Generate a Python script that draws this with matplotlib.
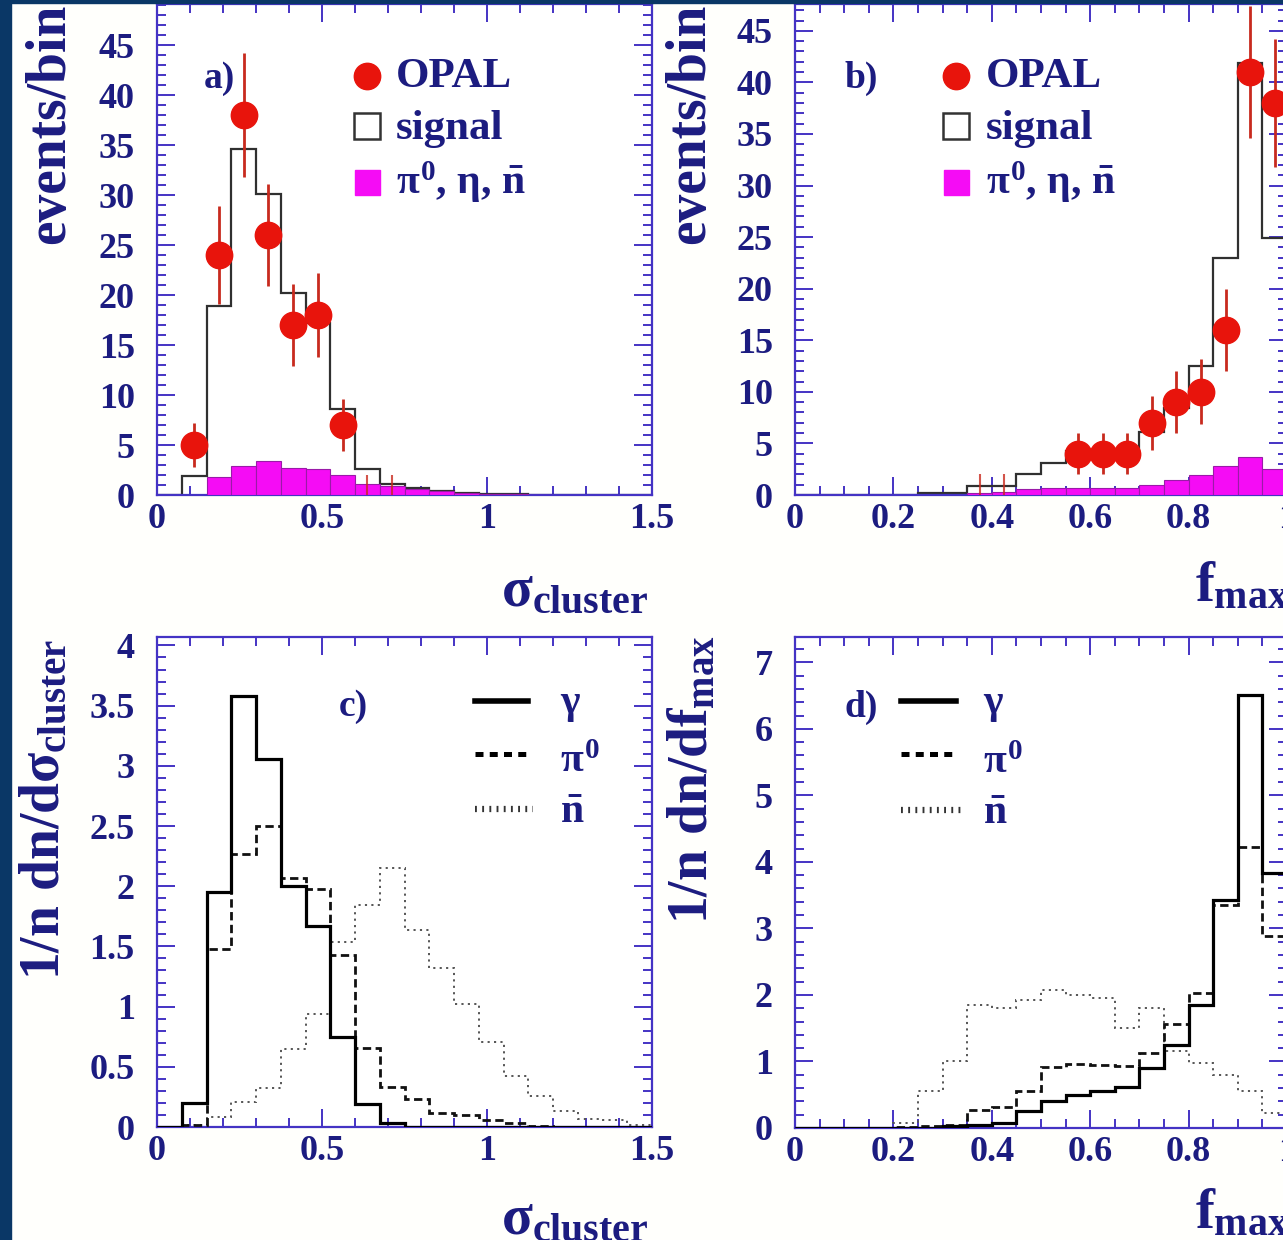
import numpy as np
import matplotlib
matplotlib.use("Agg")
import matplotlib.pyplot as plt
from matplotlib.patches import Rectangle
from matplotlib.ticker import MultipleLocator, FuncFormatter

W, H = 1283, 1240

plt.rcParams['font.family'] = ['Liberation Serif', 'DejaVu Serif']
plt.rcParams['font.weight'] = 'bold'
plt.rcParams['mathtext.fontset'] = 'custom'
plt.rcParams['mathtext.rm'] = 'Liberation Serif:bold'
plt.rcParams['mathtext.it'] = 'Liberation Serif:bold'
plt.rcParams['mathtext.bf'] = 'Liberation Serif:bold'

TXT = '#1c1c80'
FRAME = '#4433c4'
RED = '#e8140c'
ERR = '#c82a1e'
MAG = '#f50cf5'
NAVY = '#0a3766'

# binning: sigma_cluster in 0.075 steps, f_max in 0.05 steps
sig_edges = np.round(np.arange(21) * 0.075, 4)
fmax_edges = np.round(np.arange(21) * 0.05, 4)

# a) sigma_cluster, data vs MC
a_data_x = [0.1125, 0.1875, 0.2625, 0.3375, 0.4125, 0.4875, 0.5625]
a_data_y = [5, 24, 38, 26, 17, 18, 7]
a_single_x = [0.6375, 0.7125]
a_single_y = [1, 1]
a_signal = [0, 1.9, 18.9, 34.6, 30.1, 20.2, 17.2, 8.6, 2.6, 1.1,
            0.7, 0.4, 0.25, 0.15, 0.1, 0.05, 0, 0, 0, 0]
a_bkg = [0, 0, 1.8, 2.9, 3.4, 2.7, 2.6, 2.0, 1.1, 0.9,
         0.6, 0.4, 0.2, 0.15, 0.1, 0.05, 0, 0, 0, 0]

# b) f_max, data vs MC
b_data_x = [0.575, 0.625, 0.675, 0.725, 0.775, 0.825, 0.875, 0.925, 0.975]
b_data_y = [4, 4, 4, 7, 9, 10, 16, 41, 38]
b_single_x = [0.375, 0.425]
b_single_y = [1, 1]
b_signal = [0, 0, 0, 0, 0, 0.15, 0.15, 0.9, 0.9, 2.0,
            3.1, 4.3, 4.3, 4.3, 6.1, 8.4, 12.5, 23.0, 41.9, 24.9]
b_bkg = [0, 0, 0, 0, 0, 0, 0, 0.2, 0.3, 0.6,
         0.7, 0.7, 0.7, 0.7, 1.0, 1.45, 1.9, 2.8, 3.7, 2.55]

# c) normalised sigma_cluster shapes
c_gamma = [0, 0.2, 1.95, 3.58, 3.06, 2.0, 1.67, 0.75, 0.19, 0.03,
           0, 0, 0, 0, 0, 0, 0, 0, 0, 0]
c_pi0 = [0, 0.02, 1.48, 2.27, 2.5, 2.07, 1.98, 1.43, 0.66, 0.335,
         0.23, 0.12, 0.1, 0.06, 0.03, 0.01, 0, 0, 0, 0]
c_nbar = [0, 0.02, 0.08, 0.21, 0.32, 0.65, 0.94, 1.54, 1.84, 2.15,
          1.64, 1.32, 1.02, 0.71, 0.42, 0.26, 0.135, 0.07, 0.06, 0.02]

# d) normalised f_max shapes
d_gamma = [0, 0, 0, 0, 0, 0, 0.03, 0.05, 0.08, 0.25,
           0.4, 0.5, 0.55, 0.62, 0.9, 1.25, 1.85, 3.43, 6.51, 3.83]
d_pi0 = [0, 0, 0, 0, 0.02, 0.03, 0.05, 0.27, 0.32, 0.56,
         0.92, 0.96, 0.95, 0.93, 1.12, 1.57, 2.03, 3.35, 4.23, 2.88]
d_nbar = [0, 0, 0, 0, 0.08, 0.55, 1.0, 1.85, 1.8, 1.92,
          2.07, 2.0, 1.95, 1.5, 1.8, 1.15, 0.97, 0.8, 0.55, 0.22]

fig = plt.figure(figsize=(W / 100, H / 100), dpi=100)
fig.patch.set_facecolor('#fffffc')


def px_axes(x0, y0, x1, y1):
    return fig.add_axes([x0 / W, 1 - y1 / H, (x1 - x0) / W, (y1 - y0) / H])


def ftext(x, y, s, **kw):
    kw.setdefault('color', TXT)
    fig.text(x / W, 1 - y / H, s, **kw)


def style(ax, xlim, ylim, xmaj, xmin, ymaj, ymin):
    ax.set_xlim(*xlim)
    ax.set_ylim(*ylim)
    ax.xaxis.set_major_locator(MultipleLocator(xmaj))
    ax.xaxis.set_minor_locator(MultipleLocator(xmin))
    ax.yaxis.set_major_locator(MultipleLocator(ymaj))
    ax.yaxis.set_minor_locator(MultipleLocator(ymin))
    fmt = FuncFormatter(lambda v, p: f'{round(v, 3):g}')
    ax.xaxis.set_major_formatter(fmt)
    ax.yaxis.set_major_formatter(fmt)
    ax.tick_params(which='both', direction='in', top=True, right=True,
                   color=FRAME, labelcolor=TXT, width=1.4, labelsize=26)
    ax.tick_params(which='major', length=13)
    ax.tick_params(which='minor', length=6.5)
    ax.tick_params(axis='x', which='major', pad=6)
    ax.tick_params(axis='y', which='major', pad=16)
    for s in ax.spines.values():
        s.set_color(FRAME)
        s.set_linewidth(1.6)


def data_panel(ax, edges, signal, bkg, dx, dy, sx, sy):
    edges = np.asarray(edges)
    bkg = np.asarray(bkg)
    ax.stairs(signal, edges, color='#303030', lw=1.6, zorder=2)
    keep = bkg > 0
    ax.bar(edges[:-1][keep], bkg[keep], width=np.diff(edges)[keep],
           align='edge', color=MAG, edgecolor='#9a1aa8', linewidth=0.8,
           zorder=3)
    ax.errorbar(sx, sy, yerr=np.sqrt(sy), fmt='none', ecolor=ERR,
                elinewidth=1.5, alpha=0.8, zorder=4)
    ax.errorbar(dx, dy, yerr=np.sqrt(dy), fmt='o', color=RED, ms=19,
                mec=RED, ecolor=ERR, elinewidth=2, capsize=0, zorder=5)


def data_legend(ax, xm, xt):
    t = ax.transAxes
    ax.plot([xm], [0.853], 'o', ms=19, color=RED, transform=t, clip_on=False)
    ax.text(xt, 0.831, 'OPAL', transform=t, fontsize=31, va='baseline', color=TXT)
    ax.plot([xm], [0.751], 's', ms=19, mfc='white', mec='#333333', mew=1.8,
            transform=t, clip_on=False)
    ax.text(xt, 0.725, 'signal', transform=t, fontsize=31, va='baseline', color=TXT)
    ax.plot([xm], [0.637], 's', ms=18, color=MAG, transform=t, clip_on=False)
    ax.text(xt, 0.613, r'$\pi^{0}$, $\eta$, $\bar{n}$', transform=t, fontsize=30,
            va='baseline', color=TXT)


def shape_panel(ax, edges, gamma, pi0, nbar):
    ax.stairs(nbar, edges, color='#555555', lw=1.4, ls=(0, (1.1, 2.2)), zorder=2)
    ax.stairs(pi0, edges, color='#111111', lw=2.0, ls=(0, (3, 1.6)), zorder=3)
    ax.stairs(gamma, edges, color='black', lw=2.3, zorder=4)


def shape_legend(ax, x0, x1, xt):
    t = ax.transAxes
    ax.plot([x0, x1], [0.869, 0.869], color='black', lw=4, transform=t)
    ax.text(xt, 0.845, r'$\gamma$', transform=t, fontsize=30, va='baseline', color=TXT)
    ax.plot([x0, x1], [0.761, 0.761], color='black', lw=3.6,
            ls=(0, (1.6, 1.25)), transform=t)
    ax.text(xt, 0.724, r'$\pi^{0}$', transform=t, fontsize=30, va='baseline', color=TXT)
    ax.plot([x0, x1 + 0.01], [0.648, 0.648], color='#333333', lw=4.5,
            ls=(0, (0.3, 0.85)), transform=t)
    ax.text(xt, 0.620, r'$\bar{n}$', transform=t, fontsize=30, va='baseline', color=TXT)


# a)
ax_a = px_axes(157, 4, 652, 495)
style(ax_a, (0, 1.5), (0, 49.1), 0.5, 0.1, 5, 1)
data_panel(ax_a, sig_edges, a_signal, a_bkg, a_data_x, a_data_y, a_single_x, a_single_y)
data_legend(ax_a, 0.424, 0.482)
ax_a.text(0.095, 0.829, 'a)', transform=ax_a.transAxes, fontsize=27, va='baseline', color=TXT)

# b)
ax_b = px_axes(795, 4, 1287, 495)
style(ax_b, (0, 1.0), (0, 47.6), 0.2, 0.05, 5, 1)
data_panel(ax_b, fmax_edges, b_signal, b_bkg, b_data_x, b_data_y, b_single_x, b_single_y)
data_legend(ax_b, 0.327, 0.388)
ax_b.text(0.0996, 0.829, 'b)', transform=ax_b.transAxes, fontsize=27, va='baseline', color=TXT)

# c)
ax_c = px_axes(157, 637, 652, 1127)
style(ax_c, (0, 1.5), (0, 4.07), 0.5, 0.1, 0.5, 0.1)
shape_panel(ax_c, sig_edges, c_gamma, c_pi0, c_nbar)
shape_legend(ax_c, 0.643, 0.750, 0.814)
ax_c.text(0.368, 0.839, 'c)', transform=ax_c.transAxes, fontsize=27, va='baseline', color=TXT)

# d)
ax_d = px_axes(795, 637, 1287, 1128)
style(ax_d, (0, 1.0), (0, 7.38), 0.2, 0.05, 1, 0.2)
shape_panel(ax_d, fmax_edges, d_gamma, d_pi0, d_nbar)
shape_legend(ax_d, 0.215, 0.327, 0.382)
ax_d.text(0.0996, 0.837, 'd)', transform=ax_d.transAxes, fontsize=27, va='baseline', color=TXT)

# axis titles
ftext(50, 124, 'events/bin', rotation=90, ha='center', va='center', fontsize=40)
ftext(690, 124, 'events/bin', rotation=90, ha='center', va='center', fontsize=40)
ftext(575, 592, r'$\sigma_{\rm cluster}$', ha='center', va='center', fontsize=41)
ftext(1195, 587, r'$f_{\rm max}$', ha='left', va='center', fontsize=41)
ftext(45, 810, r'$1/n\ dn/d\sigma_{\rm cluster}$', rotation=90, ha='center',
      va='center', fontsize=40)
ftext(693, 780, r'$1/n\ dn/df_{\rm max}$', rotation=90, ha='center',
      va='center', fontsize=40)
ftext(575, 1220, r'$\sigma_{\rm cluster}$', ha='center', va='center', fontsize=41)
ftext(1195, 1214, r'$f_{\rm max}$', ha='left', va='center', fontsize=41)

# dark frame strips on the left and top edge
fig.add_artist(Rectangle((0, 0), 11 / W, 1, transform=fig.transFigure,
                         color=NAVY, zorder=10))
fig.add_artist(Rectangle((0, 1 - 3 / H), 1, 3 / H, transform=fig.transFigure,
                         color=NAVY, zorder=10))

fig.savefig('out.png', dpi=100, facecolor=fig.get_facecolor())
